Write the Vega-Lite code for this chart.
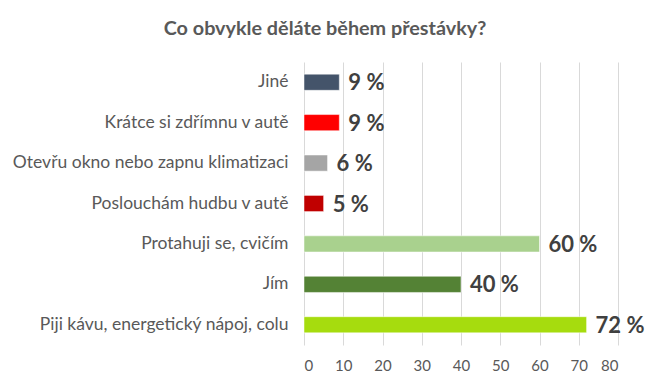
{
  "$schema": "https://vega.github.io/schema/vega-lite/v6.json",
  "width": 314,
  "height": 283,
  "autosize": {"type": "none"},
  "padding": {"left": 304, "top": 62, "right": 29, "bottom": 45},
  "background": "white",
  "title": {
    "text": "Co obvykle děláte během přestávky?",
    "font": "Lato",
    "fontSize": 19.8,
    "fontWeight": "bold",
    "color": "#595959",
    "anchor": "middle",
    "frame": "group",
    "dx": -136,
    "offset": 23
  },
  "data": {
    "values": [
      {"cat": "Jiné", "value": 9, "color": "#44546A"},
      {"cat": "Krátce si zdřímnu v autě", "value": 9, "color": "#FF0000"},
      {"cat": "Otevřu okno nebo zapnu klimatizaci", "value": 6, "color": "#A5A5A5"},
      {"cat": "Poslouchám hudbu v autě", "value": 5, "color": "#C00000"},
      {"cat": "Protahuji se, cvičím", "value": 60, "color": "#A9D18E"},
      {"cat": "Jím", "value": 40, "color": "#548235"},
      {"cat": "Piji kávu, energetický nápoj, colu", "value": 72, "color": "#A6DC0E"}
    ]
  },
  "encoding": {
    "y": {
      "field": "cat",
      "type": "nominal",
      "sort": null,
      "scale": {"paddingInner": 0.6, "paddingOuter": 0.3},
      "axis": {
        "title": null,
        "domain": false,
        "ticks": false,
        "labelFont": "Lato",
        "labelFontSize": 17.5,
        "labelColor": "#595959",
        "labelPadding": 16,
        "labelLimit": 400
      }
    },
    "x": {
      "field": "value",
      "type": "quantitative",
      "scale": {"domain": [0, 80], "nice": false},
      "axis": {
        "title": null,
        "values": [0, 10, 20, 30, 40, 50, 60, 70, 80],
        "domain": false,
        "ticks": false,
        "grid": true,
        "gridColor": "#D9D9D9",
        "gridWidth": 1,
        "labelFont": "Lato",
        "labelFontSize": 15,
        "labelColor": "#595959",
        "labelPadding": 13
      }
    }
  },
  "layer": [
    {
      "mark": {"type": "bar", "stroke": "white", "strokeWidth": 0.5},
      "encoding": {
        "color": {"field": "color", "type": "nominal", "scale": null}
      }
    },
    {
      "mark": {
        "type": "text",
        "align": "left",
        "baseline": "middle",
        "dx": 9,
        "dy": 1,
        "font": "Lato",
        "fontSize": 22,
        "fontWeight": "bold",
        "color": "#404040",
        "text": {"expr": "datum.value + ' %'"}
      }
    }
  ],
  "config": {"view": {"stroke": null}}
}
